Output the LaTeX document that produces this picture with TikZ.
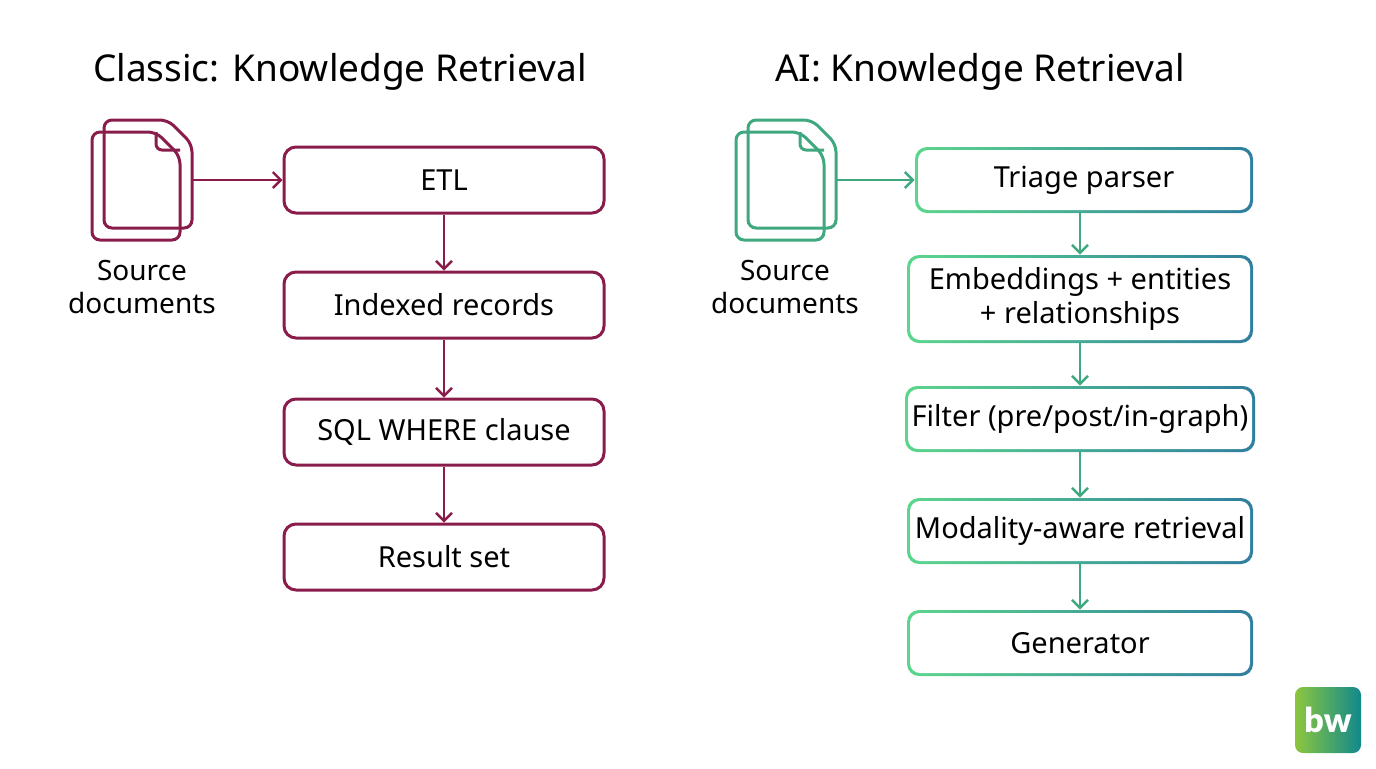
\documentclass[tikz,border=0pt]{standalone}
\usepackage{fontspec}
\setmainfont{Noto Sans}
\usetikzlibrary{arrows.meta,calc,positioning}
\definecolor{maroon}{HTML}{8A1C4B}
\definecolor{aigreen}{HTML}{5CD68C}
\definecolor{aiblue}{HTML}{2F7E9E}
\definecolor{aimid}{HTML}{3FA87F}
\definecolor{bwgreen}{HTML}{8CC63F}
\definecolor{bwteal}{HTML}{10898C}
\tikzset{
  classic/.style={draw=maroon, line width=1.5pt, rounded corners=6pt,
    minimum width=160pt, minimum height=33pt, font=\fontsize{14.5}{17}\selectfont, align=center},
  ai/.style={rounded corners=6pt, left color=aigreen, right color=aiblue,
    minimum width=173pt, minimum height=33pt, font=\fontsize{14.5}{17}\selectfont, align=center,
    path picture={\fill[white, rounded corners=5pt]
      ($(path picture bounding box.south west)+(1.5pt,1.5pt)$) rectangle
      ($(path picture bounding box.north east)-(1.5pt,1.5pt)$);}},
  flow/.style={line width=1.2pt, -{Straight Barb[length=4pt,width=8pt]}},
  title/.style={font=\fontsize{18.5}{22}\selectfont},
  label/.style={font=\fontsize{14}{16.5}\selectfont, align=center}
}
\newcommand{\docicon}[3]{% x, y (top-left of back page), colour
  \draw[#3, line width=1.5pt, rounded corners=4pt]
    (#1,#2) -- ++(64,0) -- ++(24,24) -- ++(0,84) -- ++(-88,0) -- cycle;
  \draw[#3, line width=1.5pt, rounded corners=4pt]
    ($(#1,#2)+(-12,12)$) -- ++(64,0) -- ++(24,24) -- ++(0,84) -- ++(-88,0) -- cycle;
  \draw[#3, line width=1.5pt, rounded corners=3pt]
    ($(#1,#2)+(52,12)$) -- ++(0,18) -- ++(24,0);
}
\begin{document}
\begin{tikzpicture}[x=0.5pt, y=-0.5pt]
\useasboundingbox (0,0) rectangle (1376,768);

% classic side
\node[title] (ctitle) at (340,72) {Classic: Knowledge Retrieval};
\docicon{104}{120}{maroon}
\coordinate (cdoc) at (192,180);
\node[label] (csrc) at (142,287) {Source\\documents};
\node[classic] (etl)  at (444,180) {ETL};
\node[classic] (idx)  at (444,305) {Indexed records};
\node[classic] (sql)  at (444,432) {SQL WHERE clause};
\node[classic] (res)  at (444,557) {Result set};
\draw[flow, maroon] (cdoc) -- (etl);
\draw[flow, maroon] (etl) -- (idx);
\draw[flow, maroon] (idx) -- (sql);
\draw[flow, maroon] (sql) -- (res);

% AI side
\node[title] (atitle) at (980,72) {AI: Knowledge Retrieval};
\docicon{748}{120}{aimid}
\coordinate (adoc) at (836,180);
\node[label] (asrc) at (785,287) {Source\\documents};
\node[ai, minimum width=169pt] (tri) at (1084,180) {Triage parser};
\node[ai, minimum height=44pt] (emb) at (1080,299) {Embeddings + entities\\+ relationships};
\node[ai] (fil) at (1080,419) {Filter (pre/post/in-graph)};
\node[ai] (mod) at (1080,531) {Modality-aware retrieval};
\node[ai] (gen) at (1080,643) {Generator};
\draw[flow, aimid] (adoc) -- (tri);
\draw[flow, aimid] (tri.south -| emb) -- (emb);
\draw[flow, aimid] (emb) -- (fil);
\draw[flow, aimid] (fil) -- (mod);
\draw[flow, aimid] (mod) -- (gen);

% logo
\node[rounded corners=4pt, left color=bwgreen, right color=bwteal, minimum size=33pt,
  text=white, font=\fontspec{Lato Black}\fontsize{17}{17}\selectfont] (logo) at (1328,720) {bw};
\end{tikzpicture}
\end{document}
